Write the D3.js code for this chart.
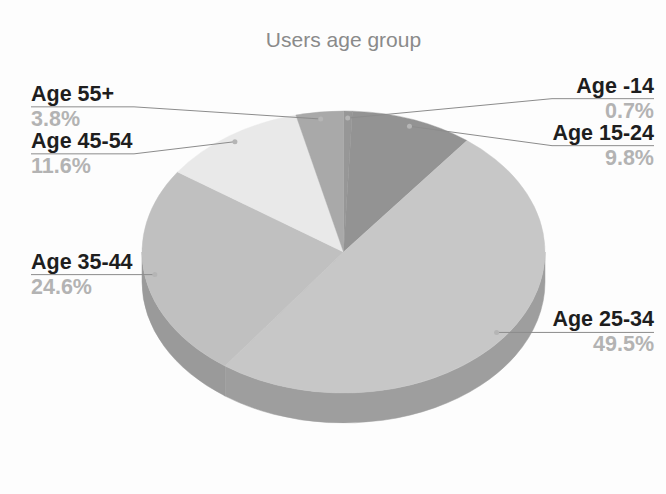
<!DOCTYPE html>
<html>
<head>
<meta charset="utf-8">
<script src="https://cdn.jsdelivr.net/npm/d3@7"></script>
<style>
  body { margin: 0; background: #fdfdfd; }
  svg { display: block; font-family: "Liberation Sans", Arial, sans-serif; }
</style>
</head>
<body>
<svg id="chart"></svg>
<script>
// age groups, clockwise from 12 o'clock
const categories = ['Age -14', 'Age 15-24', 'Age 25-34', 'Age 35-44', 'Age 45-54', 'Age 55+'];
const shares = [0.7, 9.8, 49.5, 24.6, 11.6, 3.8];
const topColors = ['#979797', '#939393', '#c7c7c7', '#c0c0c0', '#e9e9e9', '#a9a9a9'];
const sideColors = ['#7e7e7e', '#7b7b7b', '#9e9e9e', '#9a9a9a', '#bdbdbd', '#8d8d8d'];

const width = 666, height = 494;
const cx = 343.5, cy = 252, rx = 201.5, ry = 141, depth = 30;

const svg = d3.select('#chart').attr('width', width).attr('height', height);

svg.append('text')
  .attr('x', cx).attr('y', 47)
  .attr('text-anchor', 'middle')
  .attr('font-size', 21)
  .attr('fill', '#8a8a8a')
  .text('Users age group');

const data = categories.map((c, i) => ({ name: c, value: shares[i], top: topColors[i], side: sideColors[i] }));

const pie = d3.pie().value(d => d.value).sort(null);
const slices = pie(data);

// point on the ellipse rim for a pie angle (0 = top, clockwise)
const rim = (a, f = 1) => [cx + rx * f * Math.sin(a), cy - ry * f * Math.cos(a)];

// front side walls (only the half facing the viewer is visible)
const sides = svg.append('g');
slices.forEach(s => {
  const a0 = Math.max(s.startAngle, Math.PI / 2);
  const a1 = Math.min(s.endAngle, Math.PI * 3 / 2);
  if (a1 <= a0) return;
  const p0 = rim(a0), p1 = rim(a1);
  sides.append('path')
    .attr('d', `M${p0[0]},${p0[1]} A${rx},${ry} 0 0 1 ${p1[0]},${p1[1]} L${p1[0]},${p1[1] + depth} A${rx},${ry} 0 0 0 ${p0[0]},${p0[1] + depth} Z`)
    .attr('fill', s.data.side)
    .attr('stroke', s.data.side)
    .attr('stroke-width', 0.5);
  // light seam where two walls meet
  if (s.endAngle < Math.PI * 3 / 2 && s.endAngle > Math.PI / 2) {
    sides.append('line')
      .attr('x1', p1[0]).attr('x2', p1[0])
      .attr('y1', p1[1]).attr('y2', p1[1] + depth)
      .attr('stroke', '#ababab').attr('stroke-width', 1);
  }
});

// top surface: circular arcs squashed into an ellipse
const arc = d3.arc().innerRadius(0).outerRadius(rx);
svg.append('g')
  .attr('transform', `translate(${cx},${cy}) scale(1,${ry / rx})`)
  .selectAll('path')
  .data(slices)
  .enter()
  .append('path')
  .attr('d', arc)
  .attr('fill', d => d.data.top)
  .attr('stroke', d => d.data.top)
  .attr('stroke-width', 0.5);

// labels
const labels = slices.map(s => {
  const mid = (s.startAngle + s.endAngle) / 2;
  const dot = rim(mid, 0.95);
  return { s, dot, right: Math.sin(mid) >= 0, y: dot[1] };
});

const gap = 47;
[true, false].forEach(side => {
  const group = labels.filter(l => l.right === side).sort((a, b) => a.y - b.y);
  for (let k = 0; k < 60; k++) {
    for (let i = 1; i < group.length; i++) {
      const over = gap - (group[i].y - group[i - 1].y);
      if (over > 0) {
        group[i].y += over / 2;
        group[i - 1].y -= over / 2;
      }
    }
  }
});

const lab = svg.append('g');
labels.forEach(l => {
  const bendX = l.right ? cx + rx + 7 : cx - rx - 8;
  const textX = l.right ? 654 : 31;
  const anchor = l.right ? 'end' : 'start';
  const line = d3.line();
  lab.append('path')
    .attr('d', line([[textX, l.y], [bendX, l.y], l.dot]))
    .attr('fill', 'none')
    .attr('stroke', '#8c8c8c')
    .attr('stroke-width', 1);
  lab.append('circle')
    .attr('cx', l.dot[0]).attr('cy', l.dot[1]).attr('r', 2.5)
    .attr('fill', '#b5b5b5');
  lab.append('text')
    .attr('x', textX).attr('y', l.y - 6)
    .attr('text-anchor', anchor)
    .attr('font-size', 21.5).attr('font-weight', 'bold')
    .attr('fill', '#1e1e1e')
    .text(l.s.data.name);
  lab.append('text')
    .attr('x', textX).attr('y', l.y + 19)
    .attr('text-anchor', anchor)
    .attr('font-size', 21.5).attr('font-weight', 'bold')
    .attr('fill', '#b3b3b3')
    .text(l.s.data.value.toFixed(1) + '%');
});
</script>
</body>
</html>
